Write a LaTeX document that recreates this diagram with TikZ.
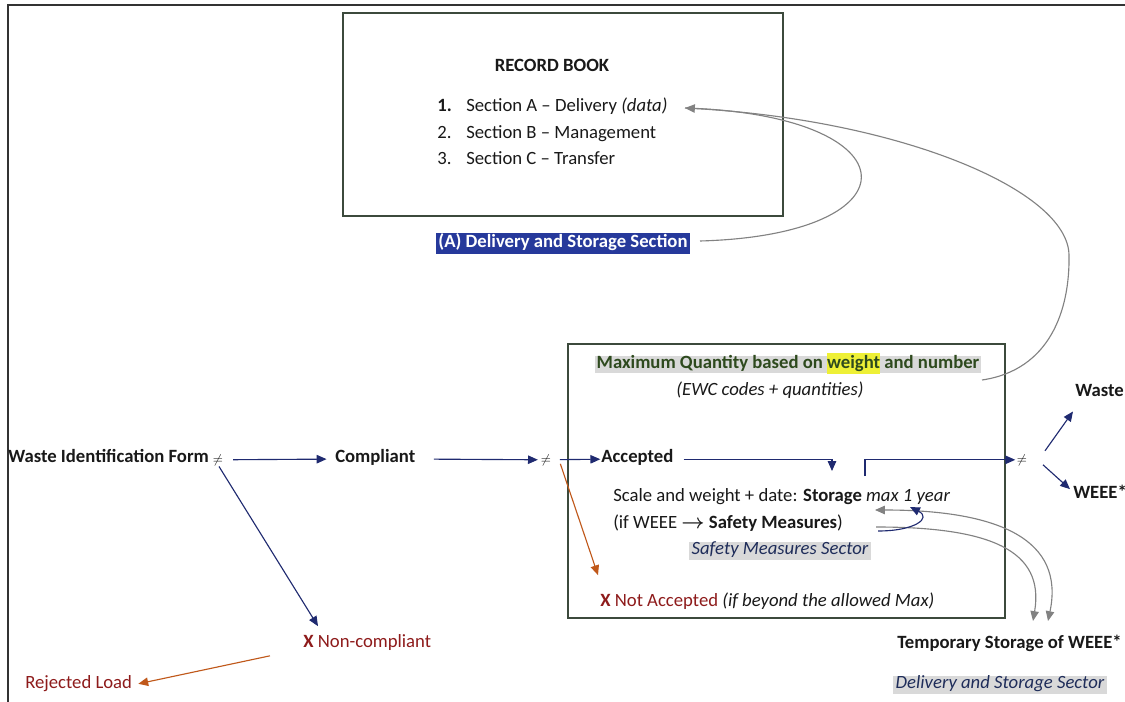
\documentclass[tikz,border=0pt]{standalone}
\usepackage{amsmath}
\usepackage{fontspec}
\setmainfont{Carlito}
\usepackage{tikz}
\usetikzlibrary{arrows.meta, positioning, calc}
\usepackage{xcolor}
\definecolor{arrowblue}{HTML}{1F2A70}
\definecolor{rejectred}{HTML}{8E1B1B}
\definecolor{rejectorange}{HTML}{C0581A}
\definecolor{linkgray}{HTML}{828282}
\definecolor{boxline}{HTML}{3C4A3C}
\definecolor{tagblue}{HTML}{26399B}
\definecolor{qtygreen}{HTML}{2E4A1E}
\definecolor{shadegray}{HTML}{D9D9D9}
\definecolor{markyellow}{HTML}{EEF036}
\definecolor{sectornavy}{HTML}{1F2D5A}
\newcommand{\diagfont}{\fontsize{13.3}{16}\selectfont}
\tikzstyle{txt} = [inner sep=0pt, text height=1.5ex, text depth=.4ex, yshift=-2pt, text=black!90, font=\diagfont]
\tikzstyle{bold} = [txt, font=\diagfont\bfseries]
\tikzstyle{sector} = [txt, fill=shadegray, text=sectornavy, inner xsep=2pt, inner ysep=1.8pt, font=\diagfont\itshape]
\tikzstyle{frame} = [draw=boxline, line width=0.9pt]
\tikzstyle{arrow} = [arrowblue, line width=0.8pt, -{Triangle[length=7pt, width=6pt]}]
\tikzstyle{rejarrow} = [arrow, rejectorange]
\tikzstyle{grayarrow} = [arrow, linkgray]
\tikzstyle{grayboth} = [grayarrow, {Triangle[length=7pt, width=6pt]}-{Triangle[length=7pt, width=6pt]}]

\begin{document}
\begin{tikzpicture}[x=0.025cm, y=-0.025cm]
  \useasboundingbox (0,0) rectangle (1125,702);
  \fill[white] (0,0) rectangle (1125,702);
  \draw[black!80, line width=0.8pt] (8,702) -- (8,5) -- (1125,5);

  % record book
  \node[frame, minimum width=11cm, minimum height=5.075cm] (recbook) at (563,114.5) {};
  \node[bold] (rbtitle) at (552,65) {RECORD BOOK};
  \node[bold, anchor=west] (num1) at (437,105) {1.};
  \node[txt, anchor=west] (secA) at (466,105) {Section A -- Delivery \textit{(data)}};
  \node[txt, anchor=west] (num2) at (437,132) {2.};
  \node[txt, anchor=west] (secB) at (466,132) {Section B -- Management};
  \node[txt, anchor=west] (num3) at (437,158) {3.};
  \node[txt, anchor=west] (secC) at (466,158) {Section C -- Transfer};
  \node[bold, fill=tagblue, text=white, inner xsep=2pt, inner ysep=3pt] (dss) at (563,241) {(A) Delivery and Storage Section};

  % storage box
  \node[frame, minimum width=10.925cm, minimum height=6.85cm] (storebox) at (786.5,481) {};
  \node[bold, fill=shadegray, text=qtygreen, inner xsep=1pt, inner ysep=1.6pt] (maxqty) at (788,362)
    {Maximum Quantity based on {\fboxsep=0pt\colorbox{markyellow}{\rule[\dimexpr-.4ex-1.6pt]{0pt}{\dimexpr1.9ex+3.2pt}weight}} and number};
  \node[txt, font=\diagfont\itshape] (ewc) at (770,389) {(EWC codes + quantities)};
  \node[bold, anchor=west] (accepted) at (601,456) {Accepted};
  \node[txt, anchor=west] (scale) at (613,495) {Scale and weight + date: \textbf{Storage} \textit{max 1 year}};
  \node[txt, anchor=west] (ifweee) at (613,522) {(if WEEE $\boldsymbol{\rightarrow}$ \textbf{Safety Measures})};
  \node[sector] (sms) at (780,548) {Safety Measures Sector};
  \node[txt, anchor=west] (notacc) at (600,600) {\textcolor{rejectred}{\textbf{X} Not Accepted} \textit{(if beyond the allowed Max)}};

  % left flow
  \node[bold, anchor=west] (wif) at (8,456) {Waste Identification Form};
  \node[txt, font=\small] (neq1) at (218,457) {$\neq$};
  \node[bold, anchor=west] (compliant) at (335,456) {Compliant};
  \node[txt, font=\small] (neq2) at (546,457) {$\neq$};
  \node[txt, anchor=west, text=rejectred] (noncomp) at (303,641) {\textbf{X} Non-compliant};
  \node[txt, anchor=west, text=rejectred] (rejected) at (25,682) {Rejected Load};

  % right side
  \node[txt, font=\small] (neq3) at (1022,457) {$\neq$};
  \node[bold, anchor=west] (waste) at (1075,390) {Waste};
  \node[bold, anchor=west] (weee) at (1073,492) {WEEE*};
  \node[bold, anchor=west] (tsw) at (897,642) {Temporary Storage of WEEE*};
  \node[sector] (dssector) at (1000,682) {Delivery and Storage Sector};

  \coordinate (recin) at (685,108);
  \coordinate (dssout) at (700,241);
  \coordinate (qtyout) at (982,380);
  \coordinate (storin) at (832,471);
  \coordinate (storout) at (865,476);
  \coordinate (scalein) at (875,510);
  \coordinate (safeout) at (876,527);
  \coordinate (hookstart) at (878,531);
  \coordinate (hookend) at (910,507);
  \coordinate (tswinA) at (1033,621);
  \coordinate (tswinB) at (1048,621);

  \draw[arrow, shorten <=7pt, shorten >=6pt] (neq1) -- (compliant);
  \draw[arrow, shorten <=13pt, shorten >=2pt] (compliant) -- (neq2);
  \draw[arrow, shorten <=6pt, shorten >=0.5pt] (neq2) -- (accepted);
  \draw[rejarrow] ($(neq2.east)+(9,4)$) -- ($(notacc.north west)+(-2,-21)$);
  \draw[arrow] ($(neq1.south)+(1,0)$) -- ($(noncomp.north west)+(15,-11)$);
  \draw[rejarrow] ($(noncomp.west)+(-33,12)$) -- ($(rejected.east)+(6,-1)$);
  \draw[arrow] ($(accepted.east)+(10,1)$) -| (storin);
  \draw[arrow, shorten >=1pt] (storout) |- (neq3);
  \draw[arrow] ($(neq3)+(23,-9)$) -- ($(waste.south west)+(-2,12)$);
  \draw[arrow] ($(neq3)+(21,5)$) -- ($(weee.north west)+(-3,1)$);

  \draw[linkgray, line width=0.8pt] (dssout) .. controls (920,235) and (915,115) .. (recin);
  \draw[grayarrow] (qtyout) .. controls (1050,370) and (1070,310) .. (1069,255)
    .. controls (1068,190) and (900,120) .. (recin);
  \draw[grayarrow] (safeout) .. controls (990,527) and (1045,550) .. (tswinA);
  \draw[grayboth] (scalein) .. controls (1000,510) and (1065,540) .. (tswinB);
  \draw[arrow] (hookstart) .. controls (915,531) and (932,518) .. (hookend);
\end{tikzpicture}
\end{document}
